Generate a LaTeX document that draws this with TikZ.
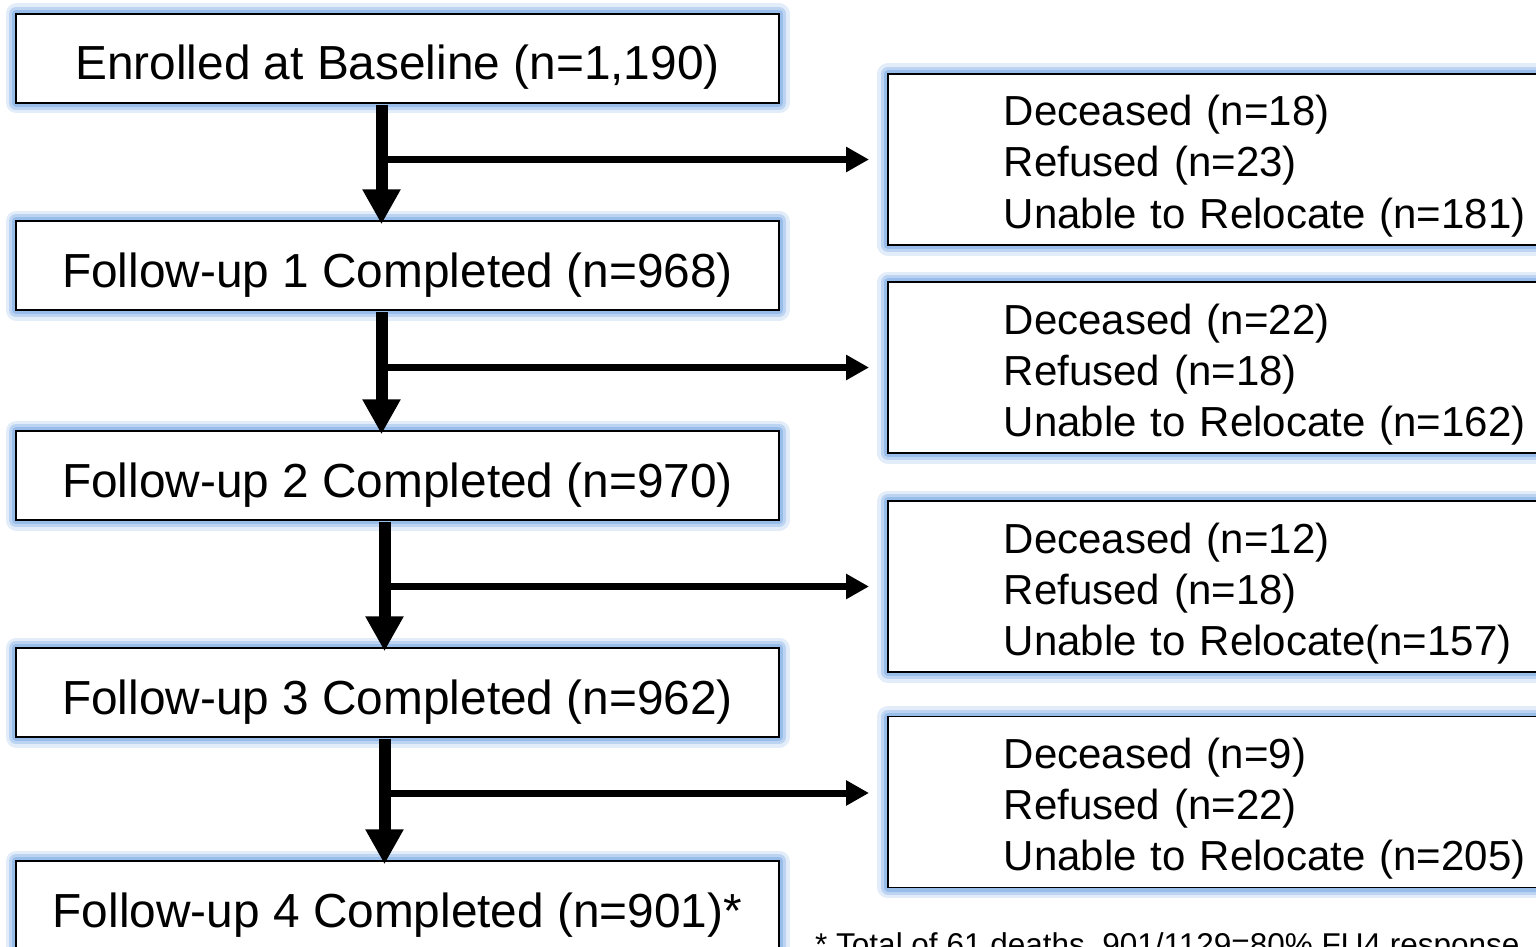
\documentclass[tikz,border=0pt]{standalone}
\usepackage{fontspec}
\setmainfont{Liberation Sans}
\usetikzlibrary{arrows.meta}
\definecolor{glowblue}{RGB}{141, 182, 232}
\tikzset{glow/.style = {preaction={draw=glowblue, line width=21pt, opacity=0.25, line join=round},
                        preaction={draw=glowblue, line width=14pt, opacity=0.45, line join=round},
                        preaction={draw=glowblue, line width=8pt, opacity=0.75, line join=round}}}
\tikzset{stagebox/.style = {glow, draw, fill=white, line width=1.5pt, inner sep=0pt,
                            minimum width=763pt, minimum height=89pt,
                            font=\fontsize{47.8}{57}\selectfont, text height=43pt, text depth=0pt}}
\tikzset{lossbox/.style = {glow, draw, fill=white, line width=1.5pt, inner sep=0pt, anchor=west,
                           minimum width=792pt, minimum height=171pt, text width=560pt, align=left,
                           font=\fontsize{42}{51}\selectfont, text height=31pt, text depth=98pt}}
\tikzset{downarrow/.style = {line width=12pt, -{Triangle[width=36pt, length=35pt]},
                             shorten <=1pt, shorten >=-4pt}}
\tikzset{sidearrow/.style = {line width=7pt, -{Triangle[width=24pt, length=23pt]}, shorten >=18pt}}

\begin{document}
\begin{tikzpicture}[x=1pt, y=-1pt]
    \useasboundingbox (0, 0) rectangle (1536, 947);

    \node [stagebox] (base) at (397.5, 58.5) {Enrolled at Baseline (n=1,190)};
    \node [stagebox] (fu1) at (397.5, 265.5) {Follow-up 1 Completed (n=968)};
    \node [stagebox] (fu2) at (397.5, 475.5) {Follow-up 2 Completed (n=970)};
    \node [stagebox] (fu3) at (397.5, 692.5) {Follow-up 3 Completed (n=962)};
    \node [stagebox] (fu4) at (397.5, 905.5) {Follow-up 4 Completed (n=901)*};

    \node [lossbox] (drop1) at (887, 159.5) {Deceased (n=18)\\ Refused (n=23)\\ Unable to Relocate (n=181)};
    \node [lossbox] (drop2) at (887, 367.5) {Deceased (n=22)\\ Refused (n=18)\\ Unable to Relocate (n=162)};
    \node [lossbox] (drop3) at (887, 586.5) {Deceased (n=12)\\ Refused (n=18)\\ Unable to Relocate(n=157)};
    \node [lossbox] (drop4) at (887, 802) {Deceased (n=9)\\ Refused (n=22)\\ Unable to Relocate (n=205)};
    \coordinate (in4) at ([yshift=9pt]drop4.west);

    \draw [downarrow] ([xshift=-16pt]base.south) coordinate (v1) -- ([xshift=-16pt]fu1.north);
    \draw [downarrow] ([xshift=-16pt]fu1.south) coordinate (v2) -- ([xshift=-16pt]fu2.north);
    \draw [downarrow] ([xshift=-13pt]fu2.south) coordinate (v3) -- ([xshift=-13pt]fu3.north);
    \draw [downarrow] ([xshift=-13pt]fu3.south) coordinate (v4) -- ([xshift=-13pt]fu4.north);

    \draw [sidearrow] (v1 |- drop1.west) -- (drop1.west);
    \draw [sidearrow] (v2 |- drop2.west) -- (drop2.west);
    \draw [sidearrow] (v3 |- drop3.west) -- (drop3.west);
    \draw [sidearrow] (v4 |- in4) -- (in4);

    \node [anchor=base west, inner sep=0pt, font=\fontsize{31.5}{38}\selectfont] (note) at (815, 955)
        {* Total of 61 deaths, 901/1129=80\% FU4 response};
\end{tikzpicture}
\end{document}
